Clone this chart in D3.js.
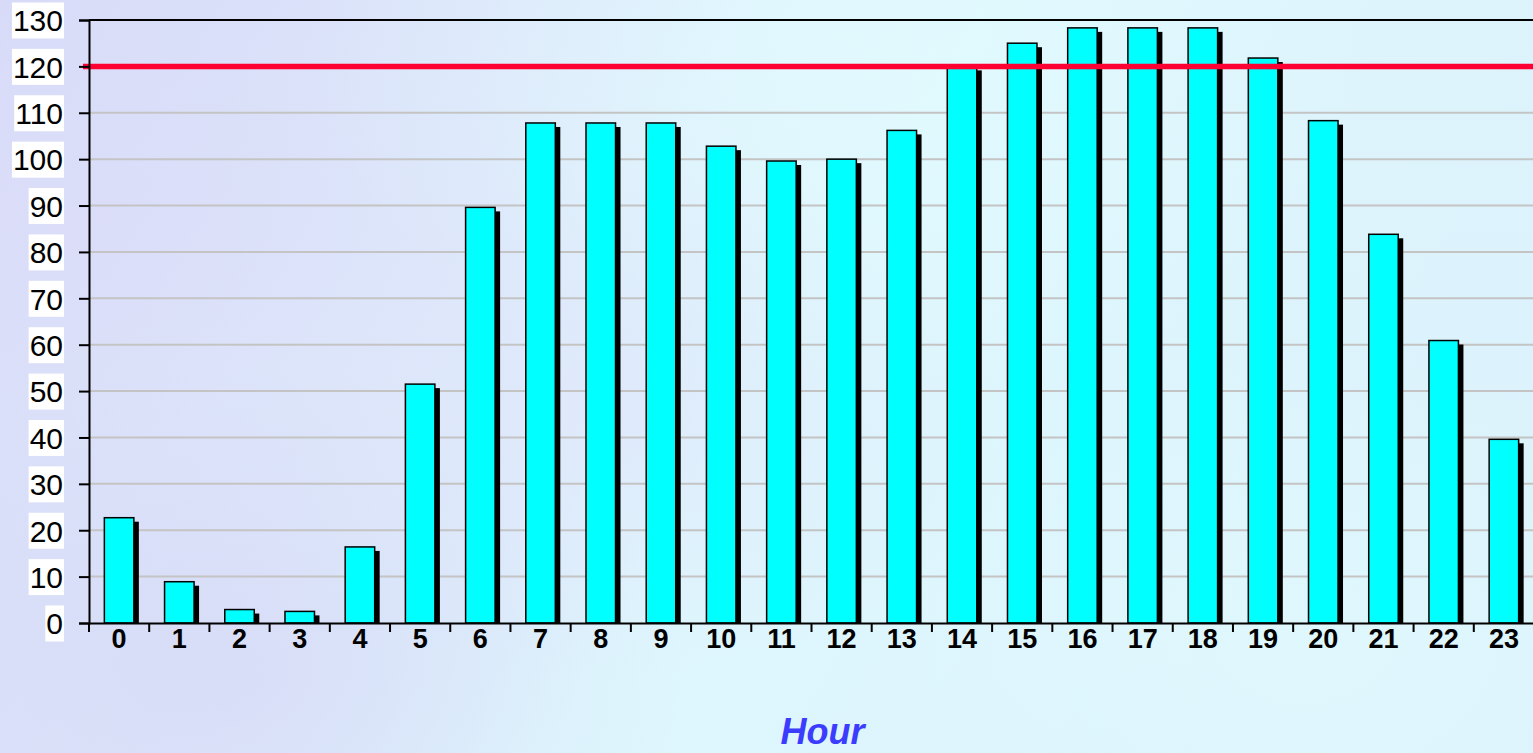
<!DOCTYPE html>
<html>
<head>
<meta charset="utf-8">
<script src="https://cdn.jsdelivr.net/npm/d3@7"></script>
<style>
  html, body { margin: 0; padding: 0; overflow: hidden; }
  svg { display: block; }
</style>
</head>
<body>
<svg id="chart" width="1533" height="753"></svg>
<script>
// ---- data ----
const hours = ["0","1","2","3","4","5","6","7","8","9","10","11","12","13","14","15","16","17","18","19","20","21","22","23"];
const values = [22.7, 8.9, 2.9, 2.5, 16.4, 51.5, 89.6, 107.8, 107.8, 107.8, 102.8, 99.6, 100.0, 106.2, 120.0, 125.0, 128.3, 128.3, 128.3, 121.8, 108.3, 83.8, 60.9, 39.6];
const yTicks = [0,10,20,30,40,50,60,70,80,90,100,110,120,130];
const limitValue = 120;
const xTitle = "Hour";

// ---- layout ----
const W = 1533, H = 753;
const plotLeft = 89, plotRight = 1534, plotTop = 20, plotBottom = 623;

const svg = d3.select("#chart");
const defs = svg.append("defs");

// background
const lg = defs.append("linearGradient").attr("id", "bg").attr("x1", "0").attr("y1", "0").attr("x2", "1").attr("y2", "0.3");
lg.append("stop").attr("offset", "0").attr("stop-color", "#d8dbf8");
lg.append("stop").attr("offset", "0.35").attr("stop-color", "#dde6fa");
lg.append("stop").attr("offset", "0.6").attr("stop-color", "#def7fd");
lg.append("stop").attr("offset", "1").attr("stop-color", "#dcf2fc");
svg.append("rect").attr("width", W).attr("height", H).attr("fill", "url(#bg)");

const blobs = [
  {cx: 0.55, cy: 0.05, r: 0.35, c: "#e2fbfe", o: 0.8},
  {cx: 0.15, cy: 0.9, r: 0.3, c: "#d6d8f6", o: 0.7},
  {cx: 0.85, cy: 0.85, r: 0.3, c: "#e0fafd", o: 0.7},
  {cx: 0.4, cy: 0.55, r: 0.25, c: "#dfe3fa", o: 0.6},
  {cx: 0.95, cy: 0.1, r: 0.25, c: "#dff4fd", o: 0.6},
  {cx: 0.05, cy: 0.3, r: 0.2, c: "#dcdcf8", o: 0.6}
];
blobs.forEach((b, i) => {
  const rg = defs.append("radialGradient").attr("id", "blob" + i);
  rg.append("stop").attr("offset", "0").attr("stop-color", b.c).attr("stop-opacity", b.o);
  rg.append("stop").attr("offset", "1").attr("stop-color", b.c).attr("stop-opacity", 0);
  svg.append("ellipse").attr("cx", b.cx * W).attr("cy", b.cy * H)
    .attr("rx", b.r * W).attr("ry", b.r * H * 1.4).attr("fill", "url(#blob" + i + ")");
});

// ---- scales ----
const x = d3.scaleBand().domain(hours).range([plotLeft, plotRight]).paddingInner(0.51).paddingOuter(0.255);
const y = d3.scaleLinear().domain([0, 130]).range([plotBottom, plotTop]);

// gridlines
svg.append("g").selectAll("line").data(yTicks.filter(d => d > 0)).join("line")
  .attr("x1", plotLeft).attr("x2", W)
  .attr("y1", d => y(d)).attr("y2", d => y(d))
  .attr("stroke", "#c4c4c4").attr("stroke-width", 2);

// shadows
svg.append("g").selectAll("rect").data(values).join("rect")
  .attr("x", (d, i) => x(hours[i]) + 5)
  .attr("y", d => y(d) + 4)
  .attr("width", x.bandwidth())
  .attr("height", d => Math.max(0, plotBottom + 1 - (y(d) + 4)))
  .attr("fill", "#000");

// bars
svg.append("g").selectAll("rect").data(values).join("rect")
  .attr("x", (d, i) => x(hours[i]))
  .attr("y", d => y(d))
  .attr("width", x.bandwidth())
  .attr("height", d => plotBottom - y(d))
  .attr("fill", "#00ffff")
  .attr("stroke", "#000").attr("stroke-width", 1.5);

// limit line
svg.append("line")
  .attr("x1", plotLeft - 6).attr("x2", W)
  .attr("y1", y(limitValue)).attr("y2", y(limitValue))
  .attr("stroke", "#ff0033").attr("stroke-width", 5.5);

// top border
svg.append("line").attr("x1", plotLeft).attr("x2", W).attr("y1", plotTop).attr("y2", plotTop)
  .attr("stroke", "#000").attr("stroke-width", 2);

// y axis
const yAxis = svg.append("g").attr("transform", `translate(${plotLeft},0)`)
  .call(d3.axisLeft(y).tickValues(yTicks).tickSize(10).tickPadding(16).tickFormat(d3.format("d")));
yAxis.select(".domain").attr("stroke", "#000").attr("stroke-width", 2);
yAxis.selectAll(".tick line").attr("stroke", "#000").attr("stroke-width", 2);
yAxis.selectAll(".tick text")
  .attr("font-family", "Arial, 'Liberation Sans', sans-serif")
  .attr("font-size", 30).attr("fill", "#000").attr("dy", "0.36em");
yAxis.selectAll(".tick").each(function() {
  const g = d3.select(this);
  const t = g.select("text");
  const bb = t.node().getBBox();
  g.insert("rect", "text")
    .attr("x", bb.x - 1).attr("y", -18)
    .attr("width", bb.width + 2).attr("height", 36)
    .attr("fill", "#fff");
});

// x axis
const xAxis = svg.append("g").attr("transform", `translate(0,${plotBottom})`)
  .call(d3.axisBottom(x).tickSize(0).tickPadding(6));
xAxis.select(".domain").attr("stroke", "#000").attr("stroke-width", 2);
xAxis.selectAll(".tick text")
  .attr("font-family", "Arial, 'Liberation Sans', sans-serif")
  .attr("font-size", 27).attr("font-weight", "bold").attr("fill", "#000")
  .attr("dy", "0.71em");
// x boundary tick marks
const step = x.step();
xAxis.append("g").selectAll("line").data(d3.range(hours.length + 1)).join("line")
  .attr("x1", i => plotLeft + i * step).attr("x2", i => plotLeft + i * step)
  .attr("y1", 0).attr("y2", 9)
  .attr("stroke", "#000").attr("stroke-width", 2);

// title
svg.append("text")
  .attr("x", (plotLeft + plotRight) / 2 + 11).attr("y", 744)
  .attr("text-anchor", "middle")
  .attr("font-family", "Arial, 'Liberation Sans', sans-serif")
  .attr("font-size", 36).attr("font-weight", "bold").attr("font-style", "italic")
  .attr("fill", "#3c3cff")
  .text(xTitle);
</script>
</body>
</html>
